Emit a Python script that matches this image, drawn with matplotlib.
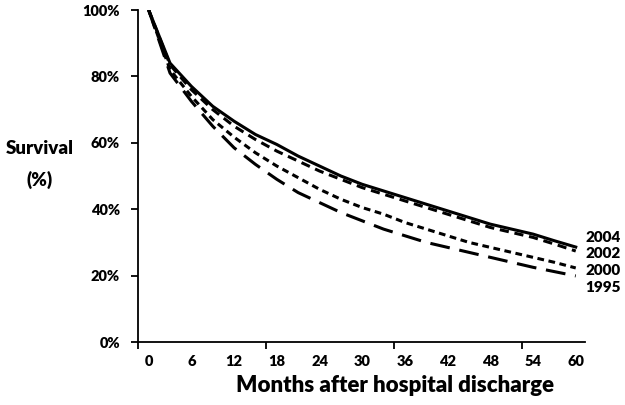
import matplotlib
matplotlib.use("Agg")
import matplotlib.pyplot as plt
from matplotlib.ticker import FixedLocator, NullFormatter

months = [0, 3, 6, 9, 12, 15, 18, 21, 24, 27, 30, 33, 36, 39, 42, 45, 48, 51, 54, 57, 60]
s2004 = [100, 84, 77, 71, 66.5, 62.5, 59.5, 56, 53, 50, 47.5, 45.5, 43.5, 41.5, 39.5, 37.5, 35.5, 34, 32.5, 30.5, 28.6]
s2002 = [100, 83.5, 76, 70, 65, 61, 57.5, 54.5, 51.5, 49, 46.5, 44.5, 42.5, 40.5, 38.5, 36.5, 34.5, 33, 31.5, 29.5, 27.4]
s2000 = [100, 82, 74, 67, 61.7, 57, 53, 49.5, 46, 43, 40.5, 38.5, 36, 34, 32, 30, 28.5, 27, 25.5, 24, 22.3]
s1995 = [100, 81, 72.5, 65, 58.5, 53.5, 49, 45, 42, 39, 36.5, 34, 32, 30, 28.5, 27, 25.5, 24, 22.5, 21.2, 19.9]
series_labels = ["2004", "2002", "2000", "1995"]
label_y = [31.6, 26.7, 21.5, 16.4]
xtick_labels = [0, 6, 12, 18, 24, 30, 36, 42, 48, 54, 60]
ytick_vals = [0, 20, 40, 60, 80, 100]

plt.rcParams['font.family'] = ['Lato', 'DejaVu Sans']
plt.rcParams['font.weight'] = 'heavy'

fig = plt.figure(figsize=(6.25, 4.05), dpi=100)
W, H = 625, 405
left, right, top, bottom = 138, 585, 10, 342
ax = fig.add_axes([left / W, 1 - bottom / H, (right - left) / W, (bottom - top) / H])

lw = 2.2
ax.plot(months, s2004, color='black', lw=lw, linestyle='-')
ax.plot(months, s2002, color='black', lw=lw, linestyle=(0, (3.0, 1.9)))
ax.plot(months, s2000, color='black', lw=lw, linestyle=(0, (2.2, 1.5)))
ax.plot(months, s1995, color='black', lw=lw, linestyle=(0, (6.5, 3.2)))

ax.set_xlim(-1.5, 61.3)
ax.set_ylim(0, 100)

ax.spines['top'].set_visible(False)
ax.spines['right'].set_visible(False)
for s in ('left', 'bottom'):
    ax.spines[s].set_linewidth(1.3)

ax.xaxis.set_major_locator(FixedLocator([-1.5, 16.5, 34.5, 52.5]))
ax.xaxis.set_major_formatter(NullFormatter())
ax.xaxis.set_minor_locator(FixedLocator(xtick_labels))
ax.set_xticklabels([str(v) for v in xtick_labels], minor=True)
ax.tick_params(axis='x', which='major', direction='out', length=5, width=1.3)
ax.tick_params(axis='x', which='minor', length=0, pad=9, labelsize=10.5)

ax.set_yticks(ytick_vals)
ax.set_yticklabels([f"{v}%" for v in ytick_vals])
ax.tick_params(axis='y', direction='out', length=5, width=1.3, labelsize=10.5, pad=8)

ax.set_xlabel("Months after hospital discharge", fontsize=16, fontweight='heavy')
ax.xaxis.set_label_coords((395 - left) / (right - left), -(385 - bottom) / (bottom - top), transform=ax.transAxes)
ax.xaxis.label.set_va('center')
fig.text(40 / W, 1 - 148 / H, "Survival", ha='center', va='center',
         fontsize=13.5, fontweight='heavy')
fig.text(40 / W, 1 - 180 / H, "(%)", ha='center', va='center',
         fontsize=13.5, fontweight='heavy')

for lab, yv in zip(series_labels, label_y):
    ax.text(61.4, yv, lab, ha='left', va='center', fontsize=11, fontweight='heavy',
            clip_on=False)

fig.savefig("out.png", dpi=100)
